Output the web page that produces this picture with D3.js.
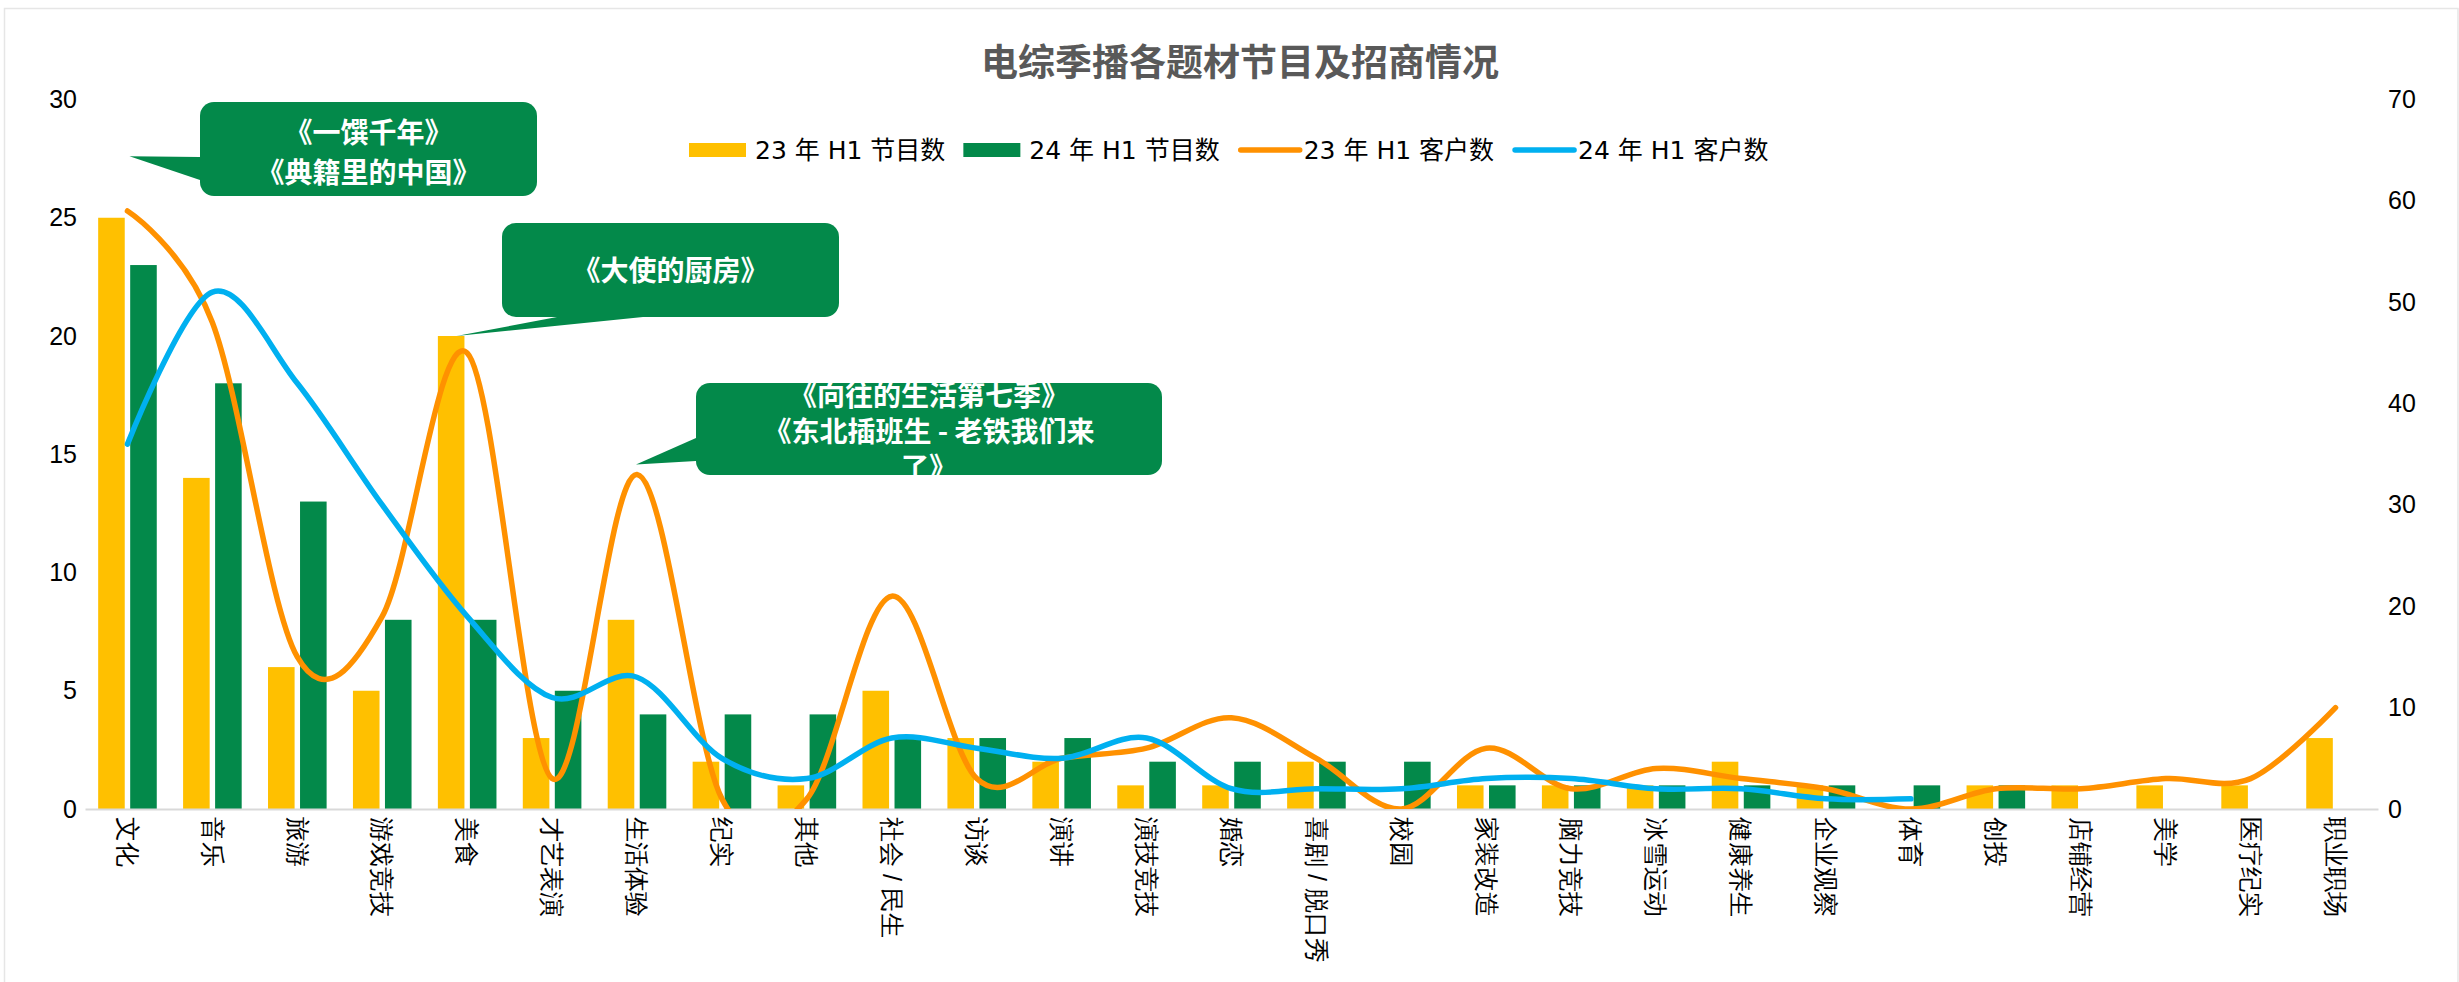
<!DOCTYPE html>
<html>
<head>
<meta charset="utf-8">
<script src="https://cdn.jsdelivr.net/npm/d3@7"></script>
<style>
  body { margin: 0; background: #fff; }
  svg { display: block; font-family: "DejaVu Sans", "Noto Sans CJK SC", sans-serif; }
</style>
</head>
<body>
<svg id="chart" width="2459" height="982"></svg>
<script>
// Chart data
const titleText = '电综季播各题材节目及招商情况';
const categories = ['文化', '音乐', '旅游', '游戏竞技', '美食', '才艺表演', '生活体验', '纪实', '其他',
    '社会 / 民生', '访谈', '演讲', '演技竞技', '婚恋', '喜剧 / 脱口秀', '校园', '家装改造', '脑力竞技',
    '冰雪运动', '健康养生', '企业观察', '体育', '创投', '店铺经营', '美学', '医疗纪实', '职业职场'];
const programs23 = [25, 14, 6, 5, 20, 3, 8, 2, 1, 5, 3, 2, 1, 1, 2, 0, 1, 1, 1, 2, 1, 0, 1, 1, 1, 1, 3];
const programs24 = [23, 18, 13, 8, 8, 5, 4, 4, 4, 3, 3, 3, 2, 2, 2, 2, 1, 1, 1, 1, 1, 1, 1, 0, 0, 0, 0];
const clients23 = [59, 48, 15, 19, 45, 3, 33, 1, 1, 21, 3, 5, 6, 9, 5, 0, 6, 2, 4, 3, 2, 0, 2, 2, 3, 3, 10];
const clients24 = [36, 51, 42, 30, 19, 11, 13, 5, 3, 7, 6, 5, 7, 2, 2, 2, 3, 3, 2, 2, 1, 1,
    null, null, null, null, null];
const leftTicks = [0, 5, 10, 15, 20, 25, 30];
const rightTicks = [0, 10, 20, 30, 40, 50, 60, 70];
const legendLabels = ['23 年 H1 节目数', '24 年 H1 节目数', '23 年 H1 客户数', '24 年 H1 客户数'];
const calloutTexts = [
    ['《一馔千年》', '《典籍里的中国》'],
    ['《大使的厨房》'],
    ['《向往的生活第七季》', '《东北插班生 - 老铁我们来', '了》']
];

const colors = { y23: '#FFC000', y24: '#03894A', c23: '#FF9100', c24: '#00B0F0' };

const svg = d3.select('#chart');
const plot = { left: 85, right: 2378, top: 99.5, bottom: 809 };

// light frame around the chart
svg.append('rect')
    .attr('x', 4.5).attr('y', 8.5)
    .attr('width', 2453.5).attr('height', 1000)
    .attr('fill', '#fff').attr('stroke', '#e6e6e6').attr('stroke-width', 1.5);

// Scales
const x0 = d3.scaleBand().domain(categories).range([plot.left, plot.right]).padding(0);
const x1 = d3.scaleBand().domain(['23', '24']).range([-29.3, 29.3]).paddingInner(0.17);
const yL = d3.scaleLinear().domain([0, 30]).range([plot.bottom, plot.top]);
const yR = d3.scaleLinear().domain([0, 70]).range([plot.bottom, plot.top]);
const cx = d => x0(d) + x0.bandwidth() / 2;

// Title
svg.append('text')
    .attr('x', 1240).attr('y', 76)
    .attr('text-anchor', 'middle')
    .style('font-family', '"Noto Sans CJK SC", sans-serif')
    .style('font-weight', 'bold')
    .style('font-size', '37px')
    .attr('fill', '#595959')
    .text(titleText);

// Bars
const barRows = categories.map((c, i) => ({ cat: c, vals: [['23', programs23[i]], ['24', programs24[i]]] }));
svg.append('g').selectAll('g')
    .data(barRows)
    .join('g')
    .attr('transform', d => `translate(${cx(d.cat)},0)`)
    .selectAll('rect')
    .data(d => d.vals)
    .join('rect')
    .attr('x', d => x1(d[0]))
    .attr('width', x1.bandwidth())
    .attr('y', d => yL(d[1]))
    .attr('height', d => yL(0) - yL(d[1]))
    .attr('fill', d => d[0] === '23' ? colors.y23 : colors.y24);

// Axes
function styleAxis(g) {
    g.selectAll('text').style('font-size', '25px').attr('fill', '#000');
}
svg.append('g')
    .attr('transform', `translate(${plot.left},0)`)
    .call(d3.axisLeft(yL).tickValues(leftTicks).tickSize(0).tickPadding(8))
    .call(g => g.select('.domain').remove())
    .call(styleAxis);
svg.append('g')
    .attr('transform', `translate(${plot.right},0)`)
    .call(d3.axisRight(yR).tickValues(rightTicks).tickSize(0).tickPadding(10))
    .call(g => g.select('.domain').remove())
    .call(styleAxis);
const xAxis = svg.append('g')
    .attr('transform', `translate(0,${plot.bottom})`)
    .call(d3.axisBottom(x0).tickSize(0).tickSizeOuter(0));
xAxis.select('.domain').attr('stroke', '#d9d9d9').attr('stroke-width', 2);
xAxis.selectAll('text')
    .style('font-size', '25px')
    .attr('fill', '#000')
    .attr('text-anchor', 'start')
    .attr('y', 0).attr('x', 0)
    .attr('dy', '0.35em')
    .attr('transform', 'translate(0,8) rotate(90)');

// Smoothed lines, clipped to plot area
svg.append('clipPath').attr('id', 'plotClip')
    .append('rect')
    .attr('x', 0).attr('y', 0)
    .attr('width', 2459).attr('height', plot.bottom);
const line = d3.line()
    .defined(d => d[1] != null)
    .x(d => cx(d[0]))
    .y(d => yR(d[1]))
    .curve(d3.curveCardinal.tension(0));
const lineGroup = svg.append('g').attr('clip-path', 'url(#plotClip)');
[[clients23, colors.c23], [clients24, colors.c24]].forEach(([vals, col]) => {
    lineGroup.append('path')
        .datum(categories.map((c, i) => [c, vals[i]]).filter(d => d[1] != null))
        .attr('d', line)
        .attr('fill', 'none')
        .attr('stroke', col)
        .attr('stroke-width', 5.5)
        .attr('stroke-linecap', 'round');
});

// Legend
const legend = svg.append('g').attr('transform', 'translate(689,150)');
let lx = 0;
legendLabels.forEach((label, i) => {
    const col = [colors.y23, colors.y24, colors.c23, colors.c24][i];
    if (i < 2) {
        legend.append('rect').attr('x', lx).attr('y', -7).attr('width', 57).attr('height', 14).attr('fill', col);
    } else {
        legend.append('line').attr('x1', lx + 3).attr('x2', lx + 62).attr('y1', 0).attr('y2', 0)
            .attr('stroke', col).attr('stroke-width', 5.5).attr('stroke-linecap', 'round');
    }
    const t = legend.append('text')
        .attr('x', lx + 66).attr('y', 0).attr('dy', '0.35em')
        .style('font-size', '25px').attr('fill', '#000')
        .text(label);
    lx += 66 + t.node().getComputedTextLength() + 18;
});

// Callouts (green speech bubbles)
const yellowRight = c => cx(c) + x1('23') + x1.bandwidth();
const callouts = [
    { box: [200, 102, 337, 94], tip: [cx('文化') + 2, yL(27.6)], base: [[200, 157], [200, 180]],
      lines: calloutTexts[0], ty: 133, step: 40 },
    { box: [502, 223, 337, 94], tip: [yellowRight('美食') - 8, yL(20)], base: [[557, 317], [643, 317]],
      lines: calloutTexts[1], ty: 271, step: 0 },
    { box: [696, 383, 466, 92], tip: [cx('生活体验') - 1, yR(clients23[6] + 1)], base: [[696, 438], [696, 461]],
      lines: calloutTexts[2], ty: 396, step: 36 }
];
callouts.forEach(c => {
    const g = svg.append('g');
    g.append('path')
        .attr('d', `M${c.base[0][0]},${c.base[0][1]}L${c.tip[0]},${c.tip[1]}L${c.base[1][0]},${c.base[1][1]}Z`)
        .attr('fill', colors.y24);
    g.append('rect')
        .attr('x', c.box[0]).attr('y', c.box[1])
        .attr('width', c.box[2]).attr('height', c.box[3])
        .attr('rx', 14)
        .attr('fill', colors.y24);
    c.lines.forEach((ln, i) => {
        g.append('text')
            .attr('x', c.box[0] + c.box[2] / 2)
            .attr('y', c.ty + i * c.step)
            .attr('dy', '0.35em')
            .attr('text-anchor', 'middle')
            .style('font-family', '"Noto Sans CJK SC", sans-serif')
            .style('font-weight', 'bold')
            .style('font-size', '28px')
            .attr('fill', '#fff')
            .text(ln);
    });
});
</script>
</body>
</html>
